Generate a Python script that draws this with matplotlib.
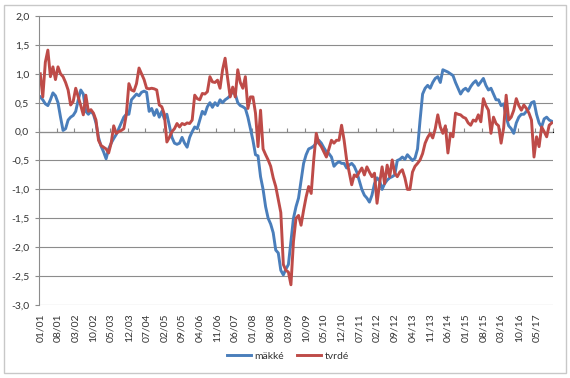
import numpy as np
import pandas as pd
import matplotlib
matplotlib.use("Agg")
from matplotlib import pyplot as plt
from matplotlib.patches import Rectangle

# monthly series, Jan 2001 .. Nov 2017
start_month = "2001-01"
label_step = 7

makke = [
    0.60, 0.55, 0.48, 0.45, 0.55, 0.67, 0.62, 0.50, 0.25, 0.02, 0.05, 0.20,
    0.25, 0.28, 0.35, 0.55, 0.72, 0.65, 0.35, 0.30, 0.35, 0.30, 0.15, -0.10,
    -0.25, -0.35, -0.47, -0.30, -0.20, -0.12, -0.05, 0.05, 0.15, 0.25, 0.30, 0.30,
    0.55, 0.60, 0.65, 0.62, 0.68, 0.70, 0.68, 0.35, 0.40, 0.28, 0.38, 0.25,
    0.35, 0.22, 0.30, 0.10, -0.10, -0.20, -0.22, -0.20, -0.10, -0.20, -0.27, -0.10,
    0.00, 0.08, 0.05, 0.20, 0.35, 0.30, 0.43, 0.50, 0.42, 0.50, 0.45, 0.55,
    0.50, 0.55, 0.58, 0.62, 0.70, 0.65, 0.50, 0.45, 0.43, 0.40, 0.25, 0.05,
    -0.15, -0.40, -0.42, -0.78, -1.00, -1.30, -1.50, -1.60, -1.75, -2.05, -2.10, -2.40,
    -2.48, -2.38, -2.30, -1.90, -1.50, -1.30, -1.15, -0.85, -0.55, -0.40, -0.30, -0.28,
    -0.25, -0.20, -0.15, -0.20, -0.28, -0.35, -0.38, -0.44, -0.60, -0.55, -0.52, -0.55,
    -0.55, -0.63, -0.58, -0.55, -0.60, -0.70, -0.85, -1.00, -1.10, -1.15, -1.22, -1.10,
    -0.90, -0.80, -0.85, -1.00, -0.90, -0.84, -0.80, -0.78, -0.75, -0.50, -0.48, -0.44,
    -0.48, -0.40, -0.45, -0.50, -0.46, -0.30, 0.20, 0.65, 0.75, 0.80, 0.75, 0.85,
    0.92, 0.95, 0.85, 1.07, 1.05, 1.03, 1.00, 0.97, 0.85, 0.75, 0.65, 0.72,
    0.75, 0.70, 0.78, 0.84, 0.88, 0.80, 0.86, 0.92, 0.80, 0.72, 0.75, 0.65,
    0.55, 0.55, 0.45, 0.48, 0.25, 0.10, 0.05, -0.03, 0.15, 0.25, 0.30, 0.30,
    0.35, 0.40, 0.50, 0.52, 0.30, 0.15, 0.08, 0.22, 0.25, 0.20, 0.18,
]

tvrde = [
    1.00, 0.60, 1.20, 1.41, 0.95, 1.12, 0.90, 1.12, 1.00, 0.95, 0.85, 0.72,
    0.46, 0.52, 0.75, 0.60, 0.45, 0.29, 0.63, 0.35, 0.38, 0.32, 0.20, -0.15,
    -0.24, -0.27, -0.30, -0.37, -0.20, 0.10, -0.03, 0.00, 0.02, 0.05, 0.30, 0.83,
    0.72, 0.70, 0.83, 1.10, 1.00, 0.90, 0.75, 0.74, 0.75, 0.74, 0.72, 0.46,
    0.43, 0.30, -0.18, -0.10, 0.00, 0.05, 0.14, 0.08, 0.14, 0.12, 0.15, 0.14,
    0.20, 0.63, 0.57, 0.55, 0.66, 0.65, 0.69, 0.95, 0.86, 0.85, 0.89, 0.75,
    1.07, 1.27, 0.92, 0.60, 0.77, 0.60, 1.07, 0.85, 0.75, 0.95, 0.40, 0.60,
    0.60, 0.32, -0.26, 0.37, -0.30, -0.40, -0.49, -0.60, -0.80, -0.95, -1.18, -1.40,
    -2.30, -2.40, -2.43, -2.65, -1.90, -1.50, -1.45, -1.62, -1.36, -1.13, -0.95, -1.07,
    -0.49, -0.03, -0.20, -0.26, -0.35, -0.44, -0.30, -0.15, -0.20, -0.15, -0.15, 0.11,
    -0.15, -0.49, -0.70, -0.92, -0.75, -0.78, -0.70, -0.63, -0.75, -0.61, -0.70, -0.78,
    -0.72, -1.24, -0.90, -0.61, -0.90, -0.58, -0.78, -0.49, -0.72, -0.78, -0.70, -0.66,
    -0.80, -1.00, -1.00, -0.70, -0.60, -0.55, -0.49, -0.38, -0.20, -0.10, -0.03, -0.11,
    0.05, 0.29, 0.08, -0.03, 0.10, -0.37, -0.03, -0.09, 0.32, 0.30, 0.29, 0.25,
    0.23, 0.15, 0.11, 0.20, 0.18, 0.29, 0.17, 0.57, 0.45, 0.37, -0.03, 0.25,
    0.14, 0.10, -0.20, 0.06, 0.63, 0.20, 0.25, 0.37, 0.57, 0.45, 0.37, 0.46,
    0.40, 0.32, 0.20, -0.44, -0.09, -0.26, 0.08, 0.00, -0.09, 0.11, 0.15,
]

series_names = ["mäkké", "tvrdé"]
colors = ["#4A7EBB", "#BE4B48"]

months = pd.date_range(start_month, periods=len(makke), freq="MS")
x = np.arange(len(months))
labels = [m.strftime("%m/%y") for m in months]

plt.rcParams['font.family'] = ['Lato', 'DejaVu Sans']

fig = plt.figure(figsize=(5.70, 3.78), dpi=100)
fig.patches.append(Rectangle((4/570, 5/378), 562/570, 368/378, transform=fig.transFigure,
                             fill=False, edgecolor="#c8c8c8", linewidth=1))
ax = fig.add_axes([39/570, 1 - 305/378, 514/570, 289/378])

for vals, name, c in zip([makke, tvrde], series_names, colors):
    ax.plot(x, vals, color=c, linewidth=2.1, label=name, solid_joinstyle="round")

ax.set_xlim(-0.5, len(x) - 0.5)
ax.set_ylim(-3.0, 2.0)
yt = np.arange(-3.0, 2.01, 0.5)
ax.set_yticks(yt)
ax.set_yticklabels([f"{v:.1f}".replace(".", ",") for v in yt], fontsize=7.5, color="#333333")
ax.yaxis.grid(True, color="#8c8c8c", linewidth=0.8)
ax.set_axisbelow(True)

ax.set_xticks(x[::label_step])
ax.set_xticklabels(labels[::label_step], rotation=90, fontsize=7.5, color="#333333")
ax.tick_params(axis="x", length=0, pad=6)
ax.tick_params(axis="y", length=3, color="#8c8c8c", pad=4)

for s in ["top", "right", "bottom"]:
    ax.spines[s].set_visible(False)
ax.spines["left"].set_color("#8c8c8c")

# category axis crosses at zero
zero_frac = (0 - ax.get_ylim()[0]) / (ax.get_ylim()[1] - ax.get_ylim()[0])
sec = ax.secondary_xaxis(zero_frac)
sec.set_xticks(np.arange(-0.5, len(x), label_step))
sec.set_xticklabels([])
sec.tick_params(axis="x", direction="out", length=3, color="#8c8c8c", width=0.8)
sec.spines["bottom"].set_color("#8c8c8c")
sec.spines["bottom"].set_linewidth(0.8)

fig.legend(loc="lower center", bbox_to_anchor=(0.505, 0.02), ncol=2, frameon=False,
           fontsize=7.5, handlelength=2.3, columnspacing=1.3, handletextpad=0.3,
           labelcolor="#333333")

fig.savefig("out.png", dpi=100)
